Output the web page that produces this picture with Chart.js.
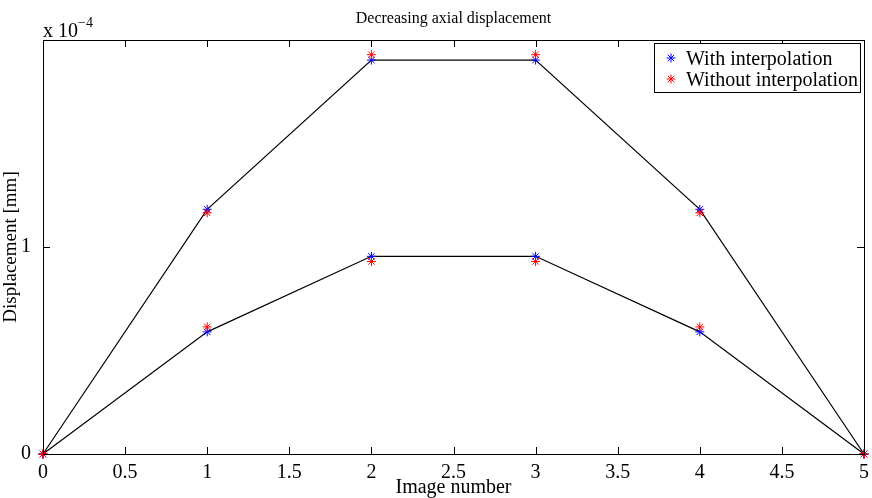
<!DOCTYPE html>
<html>
<head>
<meta charset="utf-8">
<script src="https://cdn.jsdelivr.net/npm/chart.js@4/dist/chart.umd.min.js"></script>
<style>
  html, body { margin: 0; padding: 0; background: #fff; }
  #wrap { width: 872px; height: 498px; position: relative; }
</style>
</head>
<body>
<div id="wrap"><canvas id="dispChart"></canvas></div>
<script>
// image numbers on the x axis
const imageNumbers = [0, 1, 2, 3, 4, 5];
// displacement in mm, two load levels
const withInterpHigh = [0, 1.182e-4, 1.903e-4, 1.903e-4, 1.182e-4, 0];
const withInterpLow = [0, 0.590e-4, 0.955e-4, 0.955e-4, 0.590e-4, 0];
const withoutInterpHigh = [0, 1.165e-4, 1.929e-4, 1.929e-4, 1.165e-4, 0];
const withoutInterpLow = [0, 0.614e-4, 0.930e-4, 0.930e-4, 0.614e-4, 0];
const xTicks = [0, 0.5, 1, 1.5, 2, 2.5, 3, 3.5, 4, 4.5, 5];
const yTicks = [0, 1e-4];

const serif = '"Liberation Serif", "Times New Roman", serif';

function pts(ys) {
    return imageNumbers.map((x, i) => ({ x: x, y: ys[i] }));
}

// frame, inward ticks, title, exponent and legend drawn like a MATLAB figure
const figurePlugin = {
    id: 'figure',
    afterDraw(chart) {
        const ctx = chart.ctx;
        const a = chart.chartArea;
        const xs = chart.scales.x, ys = chart.scales.y;
        ctx.save();
        ctx.strokeStyle = '#000';
        ctx.lineWidth = 1;
        ctx.strokeRect(a.left + 0.5, a.top + 0.5, a.right - a.left, a.bottom - a.top);
        ctx.beginPath();
        xTicks.forEach(v => {
            const px = Math.round(xs.getPixelForValue(v)) + 0.5;
            ctx.moveTo(px, a.bottom); ctx.lineTo(px, a.bottom - 7);
            ctx.moveTo(px, a.top); ctx.lineTo(px, a.top + 7);
        });
        yTicks.forEach(v => {
            const py = Math.round(ys.getPixelForValue(v)) + 0.5;
            ctx.moveTo(a.left, py); ctx.lineTo(a.left + 7, py);
            ctx.moveTo(a.right, py); ctx.lineTo(a.right - 7, py);
        });
        ctx.stroke();

        ctx.fillStyle = '#000';
        ctx.textBaseline = 'alphabetic';
        ctx.textAlign = 'center';
        ctx.font = '16px ' + serif;
        ctx.fillText('Decreasing axial displacement', (a.left + a.right) / 2, 23);

        ctx.textAlign = 'left';
        ctx.font = '20px ' + serif;
        ctx.fillText('x 10', 43, 37);
        const w = ctx.measureText('x 10').width;
        ctx.font = '14px ' + serif;
        ctx.fillText('\u22124', 43 + w, 27);

        // legend
        const lx = 654, ly = 43, lw = 206, lh = 49;
        ctx.fillStyle = '#fff';
        ctx.fillRect(lx, ly, lw, lh);
        ctx.strokeRect(lx + 0.5, ly + 0.5, lw, lh);
        const items = [['With interpolation', '#0000ff'], ['Without interpolation', '#ff0000']];
        items.forEach((it, i) => {
            const cy = ly + 15 + i * 21;
            ctx.strokeStyle = it[1];
            ctx.beginPath();
            const r = 4.5;
            for (let k = 0; k < 4; k++) {
                const ang = k * Math.PI / 4;
                ctx.moveTo(671 - r * Math.cos(ang), cy - r * Math.sin(ang));
                ctx.lineTo(671 + r * Math.cos(ang), cy + r * Math.sin(ang));
            }
            ctx.stroke();
            ctx.fillStyle = '#000';
            ctx.font = '20px ' + serif;
            ctx.fillText(it[0], 686, cy + 7);
        });
        ctx.restore();
    }
};

const markerSet = (label, ys, color, order) => ({
    label: label,
    data: pts(ys),
    showLine: false,
    pointStyle: 'star',
    pointRadius: 4.5,
    pointBorderWidth: 1,
    pointBorderColor: color,
    pointBackgroundColor: color,
    borderColor: color,
    clip: false,
    order: order
});

const lineSet = (ys) => ({
    data: pts(ys),
    showLine: true,
    borderColor: '#000',
    borderWidth: 1.2,
    pointRadius: 0,
    clip: false,
    order: 3
});

new Chart(document.getElementById('dispChart'), {
    type: 'scatter',
    data: {
        datasets: [
            lineSet(withInterpHigh),
            lineSet(withInterpLow),
            markerSet('With interpolation', withInterpHigh, '#0000ff', 2),
            markerSet('With interpolation', withInterpLow, '#0000ff', 2),
            markerSet('Without interpolation', withoutInterpHigh, '#ff0000', 1),
            markerSet('Without interpolation', withoutInterpLow, '#ff0000', 1)
        ]
    },
    options: {
        responsive: true,
        maintainAspectRatio: false,
        animation: false,
        layout: { padding: { left: 0, right: 8, top: 40, bottom: 0 } },
        plugins: {
            legend: { display: false },
            title: { display: false },
            tooltip: { enabled: false }
        },
        scales: {
            x: {
                type: 'linear',
                min: 0,
                max: 5,
                afterBuildTicks: s => { s.ticks = xTicks.map(v => ({ value: v })); },
                afterFit: s => { s.height = 44; },
                grid: { display: false },
                border: { display: false },
                ticks: {
                    color: '#000',
                    padding: -1,
                    maxRotation: 0,
                    font: { family: serif, size: 20 },
                    callback: v => String(v)
                },
                title: {
                    display: true,
                    text: 'Image number',
                    color: '#000',
                    padding: { top: 0, bottom: -2 },
                    font: { family: serif, size: 20 }
                }
            },
            y: {
                type: 'linear',
                min: 0,
                max: 2e-4,
                afterBuildTicks: s => { s.ticks = yTicks.map(v => ({ value: v })); },
                afterFit: s => { s.width = 43; },
                grid: { display: false },
                border: { display: false },
                ticks: {
                    color: '#000',
                    padding: 4,
                    font: { family: serif, size: 20 },
                    callback: v => String(Math.round(v * 1e4))
                },
                title: {
                    display: true,
                    text: 'Displacement [mm]',
                    color: '#000',
                    padding: { top: 0, bottom: 0 },
                    font: { family: serif, size: 19 }
                }
            }
        }
    },
    plugins: [figurePlugin]
});
</script>
</body>
</html>
